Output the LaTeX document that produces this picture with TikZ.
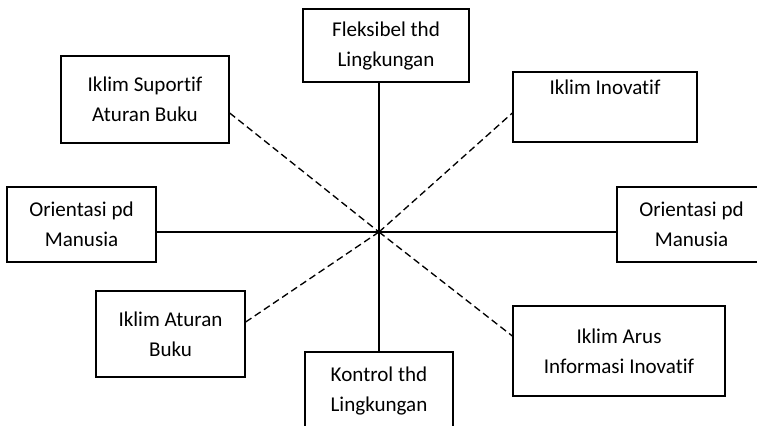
\documentclass[tikz,border=0pt]{standalone}
\usepackage{fontspec}
\setmainfont{Carlito}[Ligatures=NoCommon]
\usetikzlibrary{calc}
\begin{document}
\begin{tikzpicture}[x=0.75pt, y=-0.75pt,
  kotak/.style={draw, line width=1pt, align=center, inner sep=0pt,
    font=\fontsize{15.8pt}{22.5pt}\selectfont},
  garis/.style={line width=1pt},
  putus/.style={line width=1pt, dash pattern=on 5.25pt off 3pt}]
\clip (0,0) rectangle (757,425);
\coordinate (c) at (379,232);

\node[kotak, minimum width=124.5pt, minimum height=54.75pt] (fleks) at (386,45.5) {Fleksibel thd\\Lingkungan};
\node[kotak, minimum width=126pt, minimum height=65.25pt] (suportif) at (145,99.5) {Iklim Suportif\\Aturan Buku};
\node[kotak, minimum width=138pt, minimum height=52.5pt] (inovatif) at (605,107) {Iklim Inovatif\\\strut};
\node[kotak, minimum width=111.75pt, minimum height=56.25pt] (orikiri) at (81.5,224.5) {Orientasi pd\\Manusia};
\node[kotak, minimum width=111.75pt, minimum height=56.25pt] (orikanan) at (691.5,224.5) {Orientasi pd\\Manusia};
\node[kotak, minimum width=111.75pt, minimum height=64.5pt] (aturan) at (170.5,334) {Iklim Aturan\\Buku};
\node[kotak, minimum width=111pt, minimum height=58.5pt] (kontrol) at (379,391) {Kontrol thd\\Lingkungan};
\node[kotak, minimum width=159pt, minimum height=67.5pt] (arus) at (619,351) {Iklim Arus\\Informasi Inovatif};

\draw[garis] (fleks.south -| c) -- (kontrol.north);
\draw[garis] (orikiri.east |- c) -- (orikanan.west |- c);
\draw[putus] ($(suportif.east)+(0,13.5)$) -- (c);
\draw[putus] (c) -- ($(inovatif.west)+(0,6)$);
\draw[putus] ($(aturan.east)+(0,-12)$) -- (c);
\draw[putus] (c) -- ($(arus.west)+(0,-15)$);
\end{tikzpicture}
\end{document}
